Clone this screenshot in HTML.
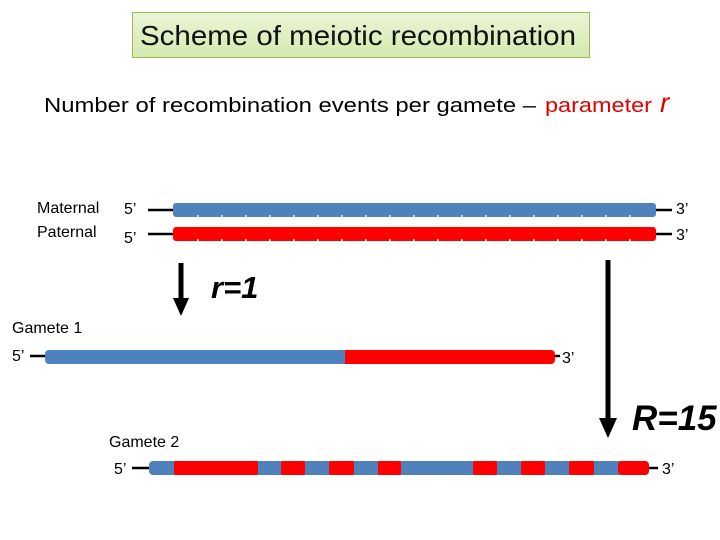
<!DOCTYPE html>
<html><head><meta charset="utf-8"><style>
html,body{margin:0;padding:0;background:#fff;width:720px;height:540px;overflow:hidden}
svg{display:block}
text{font-family:"Liberation Sans",Arial,sans-serif}
</style></head><body>
<svg width="720" height="540" viewBox="0 0 720 540" xmlns="http://www.w3.org/2000/svg">
<defs>
<linearGradient id="g" x1="0" y1="0" x2="0" y2="1"><stop offset="0" stop-color="#eaf5d6"/><stop offset="1" stop-color="#d3eaae"/></linearGradient>
<pattern id="tick" x="173" y="0" width="24" height="540" patternUnits="userSpaceOnUse"><rect x="0" y="0" width="1.5" height="540" fill="#fff"/></pattern>
</defs>
<rect x="132.5" y="12.5" width="457" height="45" fill="url(#g)" stroke="#9bbb59" stroke-width="1"/>
<text x="140" y="45" textLength="436" lengthAdjust="spacingAndGlyphs" font-size="28" fill="#111">Scheme of meiotic recombination</text>
<text x="44" y="112" font-size="20" textLength="492" lengthAdjust="spacingAndGlyphs" fill="#000">Number of recombination events per gamete –</text>
<text x="545" y="112" font-size="20" textLength="107" lengthAdjust="spacingAndGlyphs" fill="#e00000">parameter</text>
<text x="660" y="112" font-size="28" font-style="italic" fill="#e00000">r</text>

<text x="37" y="213" font-size="16">Maternal</text>
<text x="37" y="237" font-size="16">Paternal</text>
<text x="124" y="214" font-size="16">5’</text>
<text x="124" y="243" font-size="16">5’</text>
<line x1="148" y1="210" x2="175" y2="210" stroke="#000" stroke-width="2.5"/>
<line x1="148" y1="234" x2="175" y2="234" stroke="#000" stroke-width="2.5"/>
<line x1="650" y1="210" x2="672" y2="210" stroke="#000" stroke-width="2.5"/>
<line x1="650" y1="234" x2="672" y2="234" stroke="#000" stroke-width="2.5"/>
<rect x="173" y="203" width="483" height="14" rx="3" fill="#4f81bd"/>
<rect x="173" y="227" width="483" height="14" rx="3" fill="#ff0000"/>
<rect x="185" y="215" width="460" height="2" fill="url(#tick)"/>
<rect x="185" y="239" width="460" height="2" fill="url(#tick)"/>
<text x="676" y="214" font-size="16">3’</text>
<text x="676" y="240" font-size="16">3’</text>

<line x1="181" y1="263" x2="181" y2="300" stroke="#000" stroke-width="5"/>
<polygon points="173,298 189,298 181,316" fill="#000"/>
<text x="211" y="298" font-size="31" font-weight="bold" font-style="italic">r=1</text>

<line x1="608" y1="260" x2="608" y2="420" stroke="#000" stroke-width="5"/>
<polygon points="599,418 617,418 608,438" fill="#000"/>
<text x="632" y="430" font-size="35" font-weight="bold" font-style="italic">R=15</text>

<text x="12" y="333" font-size="16">Gamete 1</text>
<text x="12" y="361" font-size="16">5’</text>
<line x1="30" y1="356" x2="48" y2="356" stroke="#000" stroke-width="2.5"/>
<line x1="550" y1="356" x2="560" y2="356" stroke="#000" stroke-width="2.5"/>
<rect x="45" y="350" width="310" height="14" rx="4" fill="#4f81bd"/>
<rect x="345" y="350" width="200" height="14" fill="#ff0000"/>
<rect x="535" y="350" width="20" height="14" rx="4" fill="#ff0000"/>
<text x="562" y="363" font-size="16">3’</text>

<text x="109" y="447" font-size="16">Gamete 2</text>
<text x="114" y="474" font-size="16">5’</text>
<line x1="132" y1="468" x2="152" y2="468" stroke="#000" stroke-width="2.5"/>
<line x1="645" y1="468" x2="658" y2="468" stroke="#000" stroke-width="2.5"/>
<rect x="149" y="461" width="500" height="14" rx="4" fill="#4f81bd"/>
<rect x="174" y="461" width="84" height="14" rx="2" fill="#ff0000"/>
<rect x="281" y="461" width="24" height="14" rx="2" fill="#ff0000"/>
<rect x="329" y="461" width="25" height="14" rx="2" fill="#ff0000"/>
<rect x="378" y="461" width="23" height="14" rx="2" fill="#ff0000"/>
<rect x="473" y="461" width="24" height="14" rx="2" fill="#ff0000"/>
<rect x="521" y="461" width="24" height="14" rx="2" fill="#ff0000"/>
<rect x="569" y="461" width="25" height="14" rx="2" fill="#ff0000"/>
<rect x="618" y="461" width="31" height="14" rx="4" fill="#ff0000"/>
<text x="662" y="474" font-size="16">3’</text>
</svg>
</body></html>
